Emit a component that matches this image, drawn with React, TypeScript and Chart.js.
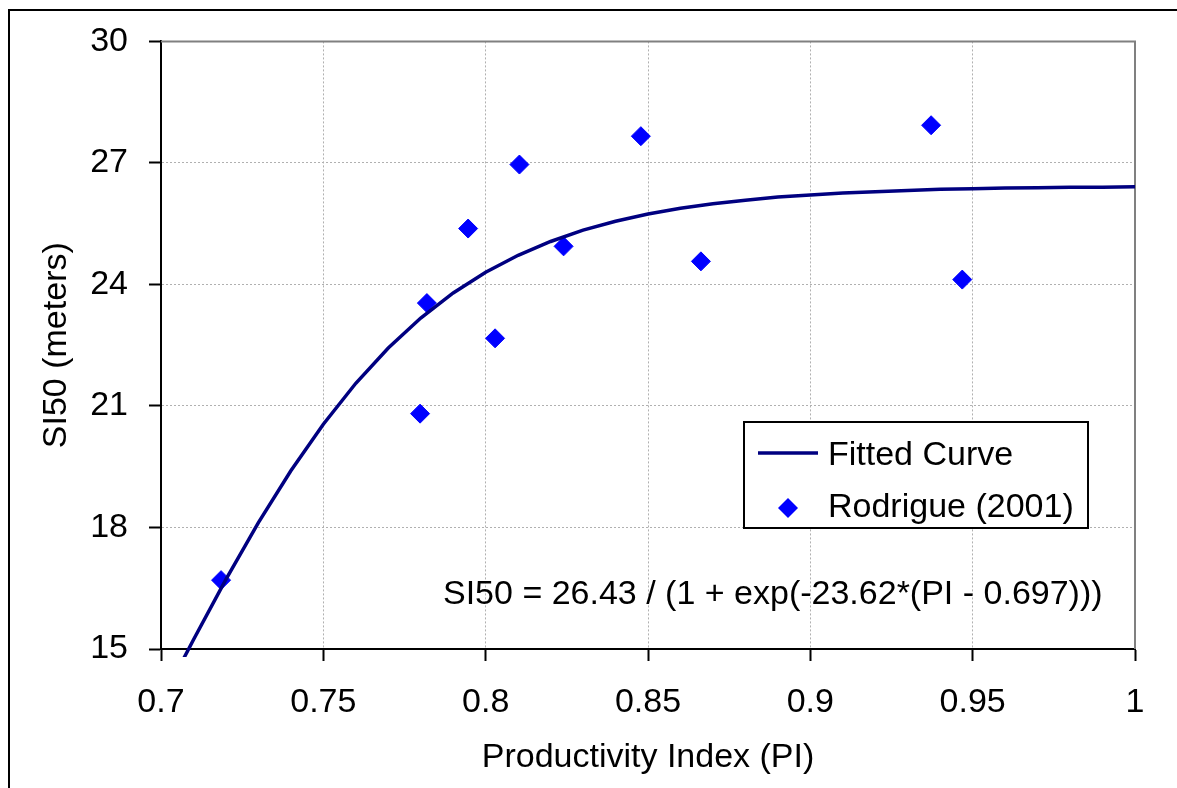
import React, { useEffect, useRef } from "react";
import { Chart, registerables } from "chart.js";

Chart.register(...registerables);

// Fitted curve (read at steps of 0.01 PI)
const fitPI = [
  0.7, 0.71, 0.72, 0.73, 0.74, 0.75, 0.76, 0.77, 0.78, 0.79, 0.8, 0.81, 0.82, 0.83, 0.84, 0.85,
  0.86, 0.87, 0.88, 0.89, 0.9, 0.91, 0.92, 0.93, 0.94, 0.95, 0.96, 0.97, 0.98, 0.99, 1.0,
];
const fitSI50 = [
  13.69, 15.23, 16.72, 18.12, 19.4, 20.55, 21.56, 22.43, 23.17, 23.79, 24.3, 24.72, 25.06, 25.34,
  25.56, 25.74, 25.88, 25.99, 26.08, 26.16, 26.21, 26.26, 26.29, 26.32, 26.35, 26.36, 26.38, 26.39,
  26.4, 26.4, 26.41,
];

// Observed points, Rodrigue (2001)
const obsPI = [0.7185, 0.7798, 0.7819, 0.7946, 0.8029, 0.8104, 0.824, 0.8478, 0.8663, 0.9372, 0.9468];
const obsSI50 = [16.7, 20.81, 23.54, 25.38, 22.67, 26.96, 24.94, 27.66, 24.57, 27.93, 24.12];

const xTickValues = [0.7, 0.75, 0.8, 0.85, 0.9, 0.95, 1.0];
const yTickValues = [15, 18, 21, 24, 27, 30];

const seriesLabels = ["Fitted Curve", "Rodrigue (2001)"];
const equationText = "SI50 = 26.43 / (1 + exp(-23.62*(PI - 0.697)))";
const xTitle = "Productivity Index (PI)";
const yTitle = "SI50 (meters)";

const FONT_FAMILY = "'Liberation Sans', Arial, sans-serif";
const FONT_SIZE = 34;
const LINE_COLOR = "#000080";
const POINT_COLOR = "#0000FF";

const decorPlugin = {
  id: "decor",
  beforeDraw(chart: any) {
    const ctx = chart.ctx;
    ctx.save();
    ctx.fillStyle = "#ffffff";
    ctx.fillRect(0, 0, chart.width, chart.height);
    ctx.restore();
  },
  beforeDatasetsDraw(chart: any) {
    const ctx = chart.ctx;
    const { left, top, right, bottom } = chart.chartArea;
    ctx.save();
    ctx.strokeStyle = "#808080";
    ctx.lineWidth = 2;
    ctx.beginPath();
    ctx.moveTo(left, top);
    ctx.lineTo(right, top);
    ctx.lineTo(right, bottom);
    ctx.stroke();
    ctx.restore();
  },
  afterDraw(chart: any) {
    const ctx = chart.ctx;
    ctx.save();
    // outer frame (left and top edges visible)
    ctx.strokeStyle = "#000000";
    ctx.lineWidth = 2;
    ctx.beginPath();
    ctx.moveTo(9, chart.height + 10);
    ctx.lineTo(9, 10);
    ctx.lineTo(chart.width + 10, 10);
    ctx.stroke();

    // legend
    const lx = 744, ly = 422, lw = 344, lh = 106;
    ctx.fillStyle = "#ffffff";
    ctx.fillRect(lx, ly, lw, lh);
    ctx.strokeStyle = "#000000";
    ctx.lineWidth = 2;
    ctx.strokeRect(lx, ly, lw, lh);

    ctx.strokeStyle = LINE_COLOR;
    ctx.lineWidth = 3.5;
    ctx.beginPath();
    ctx.moveTo(758, 453);
    ctx.lineTo(818, 453);
    ctx.stroke();

    ctx.fillStyle = POINT_COLOR;
    const dx = 788, dy = 508, r = 10;
    ctx.beginPath();
    ctx.moveTo(dx - r, dy);
    ctx.lineTo(dx, dy - r);
    ctx.lineTo(dx + r, dy);
    ctx.lineTo(dx, dy + r);
    ctx.closePath();
    ctx.fill();

    ctx.fillStyle = "#000000";
    ctx.font = `${FONT_SIZE}px ${FONT_FAMILY}`;
    ctx.textAlign = "left";
    ctx.textBaseline = "alphabetic";
    ctx.fillText(seriesLabels[0], 828, 465);
    ctx.fillText(seriesLabels[1], 828, 517);

    // equation
    ctx.fillText(equationText, 443, 604);
    ctx.restore();
  },
};

export default function App() {
  const canvasRef = useRef<HTMLCanvasElement | null>(null);

  useEffect(() => {
    if (!canvasRef.current) return;
    const font = { family: FONT_FAMILY, size: FONT_SIZE };
    const chart = new Chart(canvasRef.current, {
      type: "scatter",
      data: {
        datasets: [
          {
            label: seriesLabels[0],
            data: fitPI.map((x, i) => ({ x, y: fitSI50[i] })),
            showLine: true,
            borderColor: LINE_COLOR,
            backgroundColor: LINE_COLOR,
            borderWidth: 3.5,
            pointRadius: 0,
            tension: 0,
            clip: { left: 0, top: 0, right: 0, bottom: 8 } as any,
          },
          {
            label: seriesLabels[1],
            data: obsPI.map((x, i) => ({ x, y: obsSI50[i] })),
            showLine: false,
            pointStyle: "rectRot",
            pointRadius: 9.5,
            borderWidth: 1,
            borderColor: POINT_COLOR,
            backgroundColor: POINT_COLOR,
          },
        ],
      },
      options: {
        responsive: false,
        animation: false,
        events: [],
        layout: { padding: { left: 0, top: 39, right: 42, bottom: 0 } },
        plugins: { legend: { display: false }, tooltip: { enabled: false } },
        scales: {
          x: {
            type: "linear",
            min: 0.7,
            max: 1.0,
            afterBuildTicks: (scale: any) => {
              scale.ticks = xTickValues.map((v) => ({ value: v }));
            },
            afterFit: (scale: any) => {
              scale.height = 139;
            },
            ticks: {
              font,
              color: "#000000",
              padding: 21,
              maxRotation: 0,
              autoSkip: false,
              callback: (v: any) => String(Number(Number(v).toFixed(2))),
            },
            grid: {
              color: "#b0b0b0",
              lineWidth: 1,
              tickLength: 12,
              tickColor: "#000000",
              tickWidth: 2,
            },
            border: { display: true, color: "#000000", width: 2, dash: [2, 2] },
            title: {
              display: true,
              text: xTitle,
              font,
              color: "#000000",
              padding: { top: 0, bottom: 10 },
            },
          },
          y: {
            type: "linear",
            min: 15,
            max: 30,
            afterBuildTicks: (scale: any) => {
              scale.ticks = yTickValues.map((v) => ({ value: v }));
            },
            afterFit: (scale: any) => {
              scale.width = 161;
            },
            ticks: {
              font,
              color: "#000000",
              padding: 21,
              autoSkip: false,
              callback: (v: any) => String(v),
            },
            grid: {
              color: "#b0b0b0",
              lineWidth: 1,
              tickLength: 12,
              tickColor: "#000000",
              tickWidth: 2,
            },
            border: { display: true, color: "#000000", width: 2, dash: [2, 2] },
            title: {
              display: true,
              text: yTitle,
              font,
              color: "#000000",
              padding: { top: 36, bottom: 0 },
            },
          },
        },
      },
      plugins: [decorPlugin],
    });
    return () => chart.destroy();
  }, []);

  return (
    <div style={{ position: "fixed", left: 0, top: 0, width: 1177, height: 788 }}>
      <canvas ref={canvasRef} width={1177} height={788} style={{ display: "block" }} />
    </div>
  );
}
